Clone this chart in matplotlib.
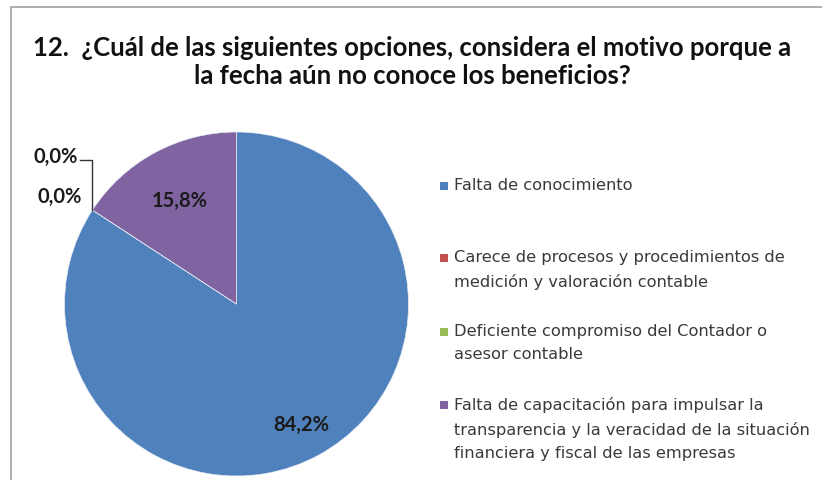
import matplotlib.pyplot as plt
from matplotlib.patches import Rectangle
import numpy as np

# encuesta - pregunta 12
categorias = [
    "Falta de conocimiento",
    "Carece de procesos y procedimientos de\nmedición y valoración contable",
    "Deficiente compromiso del Contador o\nasesor contable",
    "Falta de capacitación para impulsar la\ntransparencia y la veracidad de la situación\nfinanciera y fiscal de las empresas",
]
porcentajes = [84.2, 0.0, 0.0, 15.8]
colores = ["#4F81BD", "#C0504D", "#9BBB59", "#8064A2"]
titulo = "12.  ¿Cuál de las siguientes opciones, considera el motivo porque a\nla fecha aún no conoce los beneficios?"

W, H = 822, 481
fig = plt.figure(figsize=(W / 100, H / 100), dpi=100)
fig.patch.set_facecolor("white")

# marco gris del grafico
fig.patches.append(Rectangle((11 / W, -0.1), 1.2, (H - 8) / H + 0.1, transform=fig.transFigure,
                             fill=False, edgecolor="#999999", linewidth=1.1))

fig.text(412 / W, 1 - 62 / H, titulo, ha="center", va="center", fontsize=18.5,
         fontweight="bold", family="Lato", linespacing=1.25, color="#111111")

# pie: centro (236.5, 305) px, radio 172 px
cx, cy, r = 236.5, 305, 172
ax = fig.add_axes([(cx - r) / W, (H - cy - r) / H, 2 * r / W, 2 * r / H])
wedges, _ = ax.pie(porcentajes, colors=colores, startangle=90, counterclock=False,
                   radius=1, wedgeprops=dict(linewidth=0.5, edgecolor="#e8eef6"))
ax.set_xlim(-1, 1)
ax.set_ylim(-1, 1)
ax.set_aspect("equal")

def fmt(v):
    return f"{v:.1f}%".replace(".", ",")

lbl = dict(fontsize=14.5, fontweight="bold", family="Lato", color="#1a1a1a")
dist = {0: 0.79, 3: 0.69}
for i, (w, v) in enumerate(zip(wedges, porcentajes)):
    if v > 0:
        a = np.deg2rad((w.theta1 + w.theta2) / 2)
        ax.text(dist[i] * np.cos(a), dist[i] * np.sin(a), fmt(v), ha="center", va="center", **lbl)

# etiquetas de las porciones en cero, junto al borde
a0 = np.deg2rad(wedges[1].theta1)
jx, jy = np.cos(a0), np.sin(a0)
ax.text(jx - 0.06, jy + 0.08, fmt(porcentajes[1]), ha="right", va="center", **lbl)
ax.text(jx - 0.085, 0.86, fmt(porcentajes[2]), ha="right", va="center", **lbl)
ax.plot([jx - 0.075, jx - 0.005, jx - 0.005], [0.835, 0.835, jy], color="#333333", lw=1.0,
        clip_on=False)

# leyenda
tops = [187, 259, 333, 406]
for t, cat, col in zip(tops, categorias, colores):
    fig.patches.append(Rectangle((440 / W, 1 - (t + 4) / H), 8 / W, 8 / H,
                                 transform=fig.transFigure, facecolor=col, edgecolor="none"))
    fig.text(454 / W, 1 - (t - 9) / H, cat, ha="left", va="top", fontsize=11.7,
             family="DejaVu Sans", color="#3a3a3a", linespacing=1.68)

fig.savefig("out.png", dpi=100)
